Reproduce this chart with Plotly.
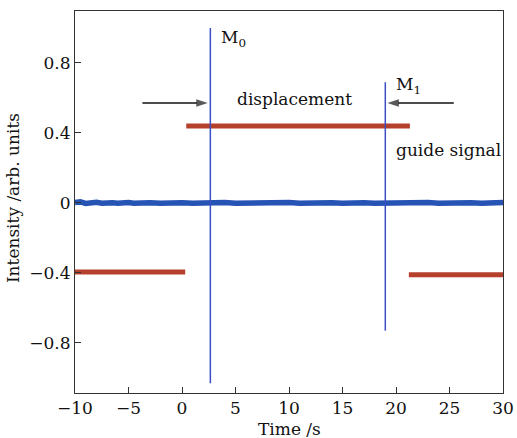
import plotly.graph_objects as go

# Baseline (blue) signal: time and small noise values around zero
base_t = [-10, -9.5, -9.0, -8.5, -8.0, -7.5, -7.0, -6.5, -6.0, -5.5, -5.0, -4.5, -4.0, -3.0, -2.0, -1.0,
          0.0, 1.0, 2.0, 3.0, 4.0, 5.0, 6.0, 7.0, 8.0, 9.0, 10.0, 11.0, 12.0, 13.0, 14.0, 15.0,
          16.0, 17.0, 18.0, 19.0, 20.0, 21.0, 22.0, 23.0, 24.0, 25.0, 26.0, 27.0, 28.0, 29.0, 30.0]
base_v = [0.003, 0.006, -0.003, 0.002, 0.004, -0.002, 0.003, 0.001, -0.002, 0.002, 0.003, -0.001, 0.002,
          0.001, -0.001, 0.002, 0.001, -0.001, 0.002, 0.001, 0.002, -0.001, 0.001, 0.002, -0.001,
          0.001, 0.002, -0.001, 0.001, 0.002, 0.001, -0.001, 0.002, 0.001, -0.001, 0.001, 0.002,
          -0.001, 0.001, 0.002, -0.001, 0.001, 0.002, 0.001, -0.001, 0.001, 0.002]

# Marker spikes (M0 and M1): time and extreme values
spike_t = [2.65, 19.0]
spike_top = [1.00, 0.69]
spike_bottom = [-1.03, -0.73]

# Guide signal (red) segments: start, end, level
guide_start = [-10.0, 0.4, 21.2]
guide_end = [0.3, 21.3, 30.0]
guide_level = [-0.395, 0.44, -0.41]

# Arrows: tail x, head x, level
arrow_tail = [-3.7, 25.4]
arrow_head = [2.4, 19.2]
arrow_level = 0.571

x_ticks = [-10, -5, 0, 5, 10, 15, 20, 25, 30]
y_ticks = [-0.8, -0.4, 0, 0.4, 0.8]
y_tick_labels = ["−0.8", "−0.4", "0", "0.4", "0.8"]

blue = "#2554b4"
spike_blue = "#3b4ec4"
red = "#b5412c"
font_family = "DejaVu Serif"
fs = 17

fig = go.Figure()

for s, e, lv in zip(guide_start, guide_end, guide_level):
    fig.add_trace(go.Scatter(x=[s, e], y=[lv, lv], mode="lines",
                             line=dict(color=red, width=5), showlegend=False, hoverinfo="skip"))

fig.add_trace(go.Scatter(x=base_t, y=base_v, mode="lines",
                         line=dict(color=blue, width=5.5), showlegend=False, hoverinfo="skip"))

for t, top, bot in zip(spike_t, spike_top, spike_bottom):
    fig.add_trace(go.Scatter(x=[t, t], y=[bot, top], mode="lines",
                             line=dict(color=spike_blue, width=1.5), showlegend=False, hoverinfo="skip"))

for tail, head in zip(arrow_tail, arrow_head):
    fig.add_trace(go.Scatter(x=[tail, head], y=[arrow_level, arrow_level], mode="lines+markers",
                             line=dict(color="#111", width=1.5),
                             marker=dict(symbol=["circle", "arrow"], size=[0, 12], angleref="previous",
                                         color="#111", line=dict(width=0)),
                             showlegend=False, hoverinfo="skip"))

tf = dict(family=font_family, size=fs, color="#111")

fig.add_annotation(x=spike_t[0] + 0.8, y=spike_top[0] - 0.06, xref="x", yref="y", text="M<sub>0</sub>",
                   showarrow=False, xanchor="left", font=tf)
fig.add_annotation(x=spike_t[1] + 0.8, y=spike_top[1] - 0.02, xref="x", yref="y", text="M<sub>1</sub>",
                   showarrow=False, xanchor="left", font=tf)
fig.add_annotation(x=10.5, y=0.595, xref="x", yref="y", text="displacement",
                   showarrow=False, font=tf)
fig.add_annotation(x=30.0, y=0.30, xref="x", yref="y", text="guide signal",
                   showarrow=False, xanchor="right", font=tf)

# Axis titles as annotations
fig.add_annotation(x=0.5, y=-0.093, xref="paper", yref="paper", text="Time /s", showarrow=False,
                   yanchor="middle", font=tf)
fig.add_annotation(x=-0.145, y=0.51, xref="paper", yref="paper", text="Intensity /arb. units",
                   showarrow=False, textangle=-90, xanchor="center", yanchor="middle", font=tf)

fig.update_layout(
    width=517, height=438,
    margin=dict(l=75, r=14, t=11, b=45, autoexpand=False),
    plot_bgcolor="white", paper_bgcolor="white",
    font=dict(family=font_family, size=fs, color="#111"),
    xaxis=dict(range=[-10, 30], tickvals=x_ticks, ticks="inside", ticklen=6, tickcolor="#333",
               showline=True, linecolor="#333", linewidth=1, mirror=True, showgrid=False, zeroline=False,
               automargin=False),
    yaxis=dict(range=[-1.086, 1.097], tickvals=y_ticks, ticktext=y_tick_labels, ticks="inside", ticklen=6,
               tickcolor="#333", showline=True, linecolor="#333", linewidth=1, mirror=True,
               showgrid=False, zeroline=False, automargin=False),
)

fig.write_html("out.html")
